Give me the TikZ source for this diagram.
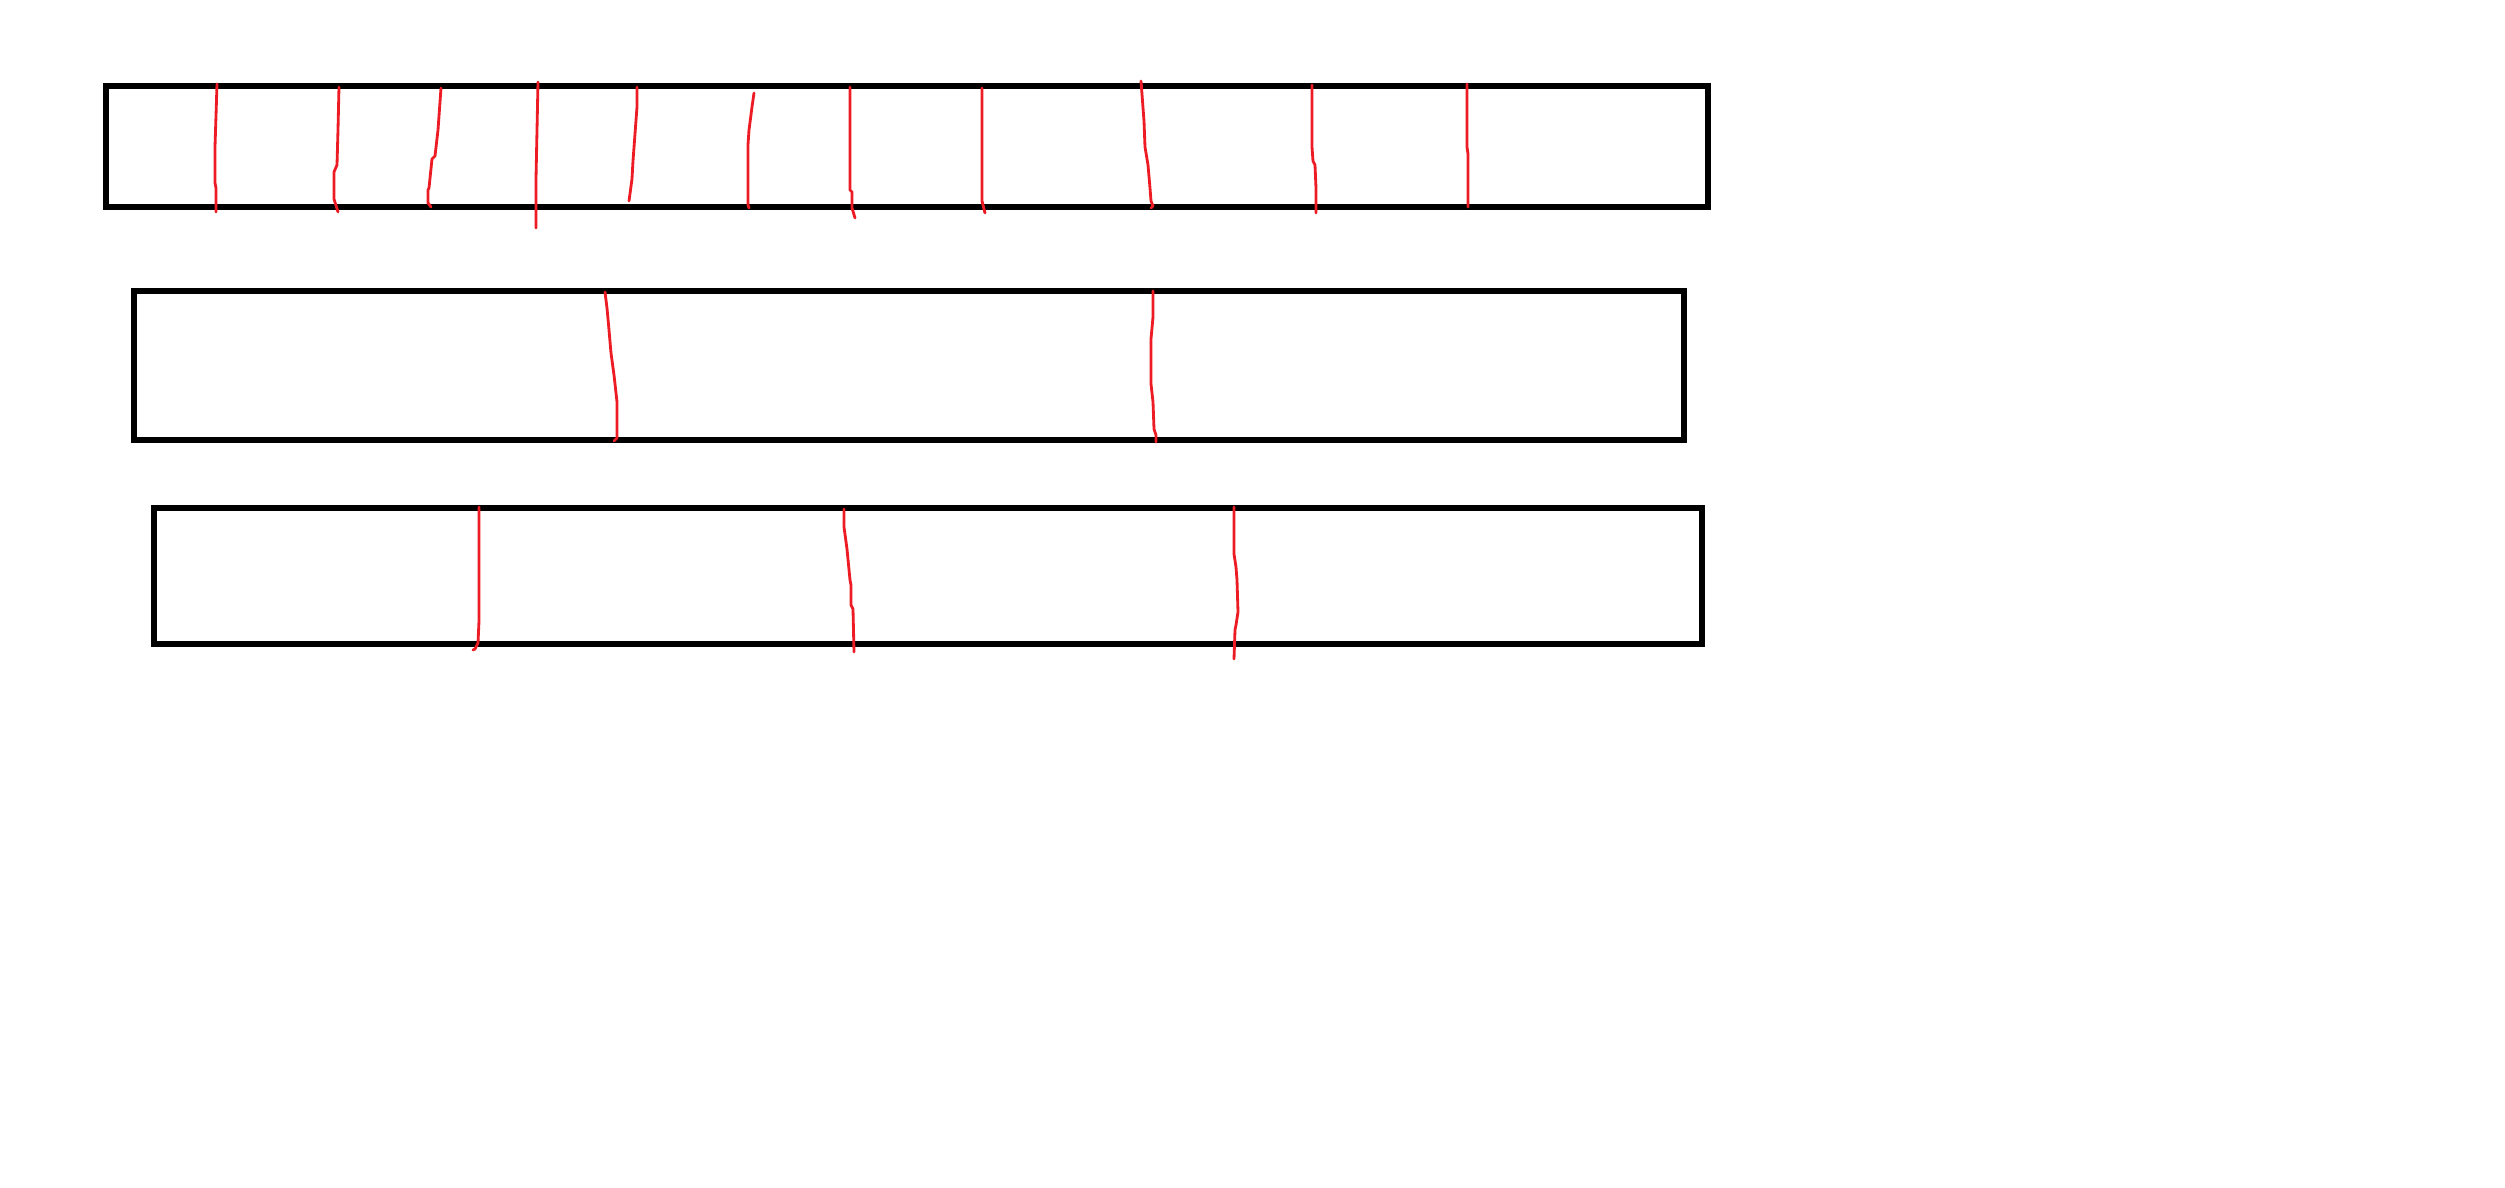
\documentclass[tikz,border=0pt]{standalone}
\usepackage{tikz}
\definecolor{paintred}{RGB}{237,28,36}

\begin{document}
\begin{tikzpicture}[x=0.01cm, y=-0.01cm,
  bar/.style={black, line width=1.6pt},
  cut/.style={paintred, line width=0.8pt, line join=round, line cap=round}]

\useasboundingbox (0,0) rectangle (2505,1188);

% the three bars
\draw[bar] (106,86) rectangle (1708,207);
\draw[bar] (134,291) rectangle (1684,440);
\draw[bar] (154,508) rectangle (1702,644);

% cuts in the first bar
\draw[cut] (217,84) -- (216,116) -- (215,147) -- (215,183) -- (216,188) -- (216,212);
\draw[cut] (339,87) -- (338,130) -- (337,165) -- (334,172) -- (334,199) -- (338,212);
\draw[cut] (441,88) -- (438,130) -- (435,156) -- (432,159) -- (429,188) -- (428,190) -- (428,203) -- (431,207);
\draw[cut] (538,82) -- (536,179) -- (536,228);
\draw[cut] (637,87) -- (637,107) -- (633,161) -- (632,179) -- (629,201);
\draw[cut] (754,93) -- (752,107) -- (749,130) -- (748,145) -- (748,205) -- (749,208);
\draw[cut] (850,87) -- (850,190) -- (852,192) -- (852,208) -- (855,218);
\draw[cut] (982,88) -- (982,201) -- (985,213);
\draw[cut] (1141,81) -- (1144,121) -- (1145,147) -- (1148,165) -- (1150,188) -- (1151,201) -- (1153,206) -- (1151,208);
\draw[cut] (1312,85) -- (1312,147) -- (1313,161) -- (1315,165) -- (1316,188) -- (1316,213);
\draw[cut] (1467,84) -- (1467,147) -- (1468,154) -- (1468,207);

% cuts in the second bar
\draw[cut] (605,292) -- (607,308) -- (609,330) -- (611,353) -- (614,375) -- (617,402) -- (617,438) -- (614,441);
\draw[cut] (1153,291) -- (1153,317) -- (1151,339) -- (1151,384) -- (1153,402) -- (1154,429) -- (1156,435) -- (1156,442);

% cuts in the third bar
\draw[cut] (479,507) -- (479,621) -- (478,643) -- (475,649) -- (473,650);
\draw[cut] (844,509) -- (844,527) -- (847,549) -- (850,580) -- (851,585) -- (851,605) -- (853,609) -- (854,652);
\draw[cut] (1234,507) -- (1234,554) -- (1236,567) -- (1237,580) -- (1238,612) -- (1236,625) -- (1235,630) -- (1234,659);

\end{tikzpicture}
\end{document}
